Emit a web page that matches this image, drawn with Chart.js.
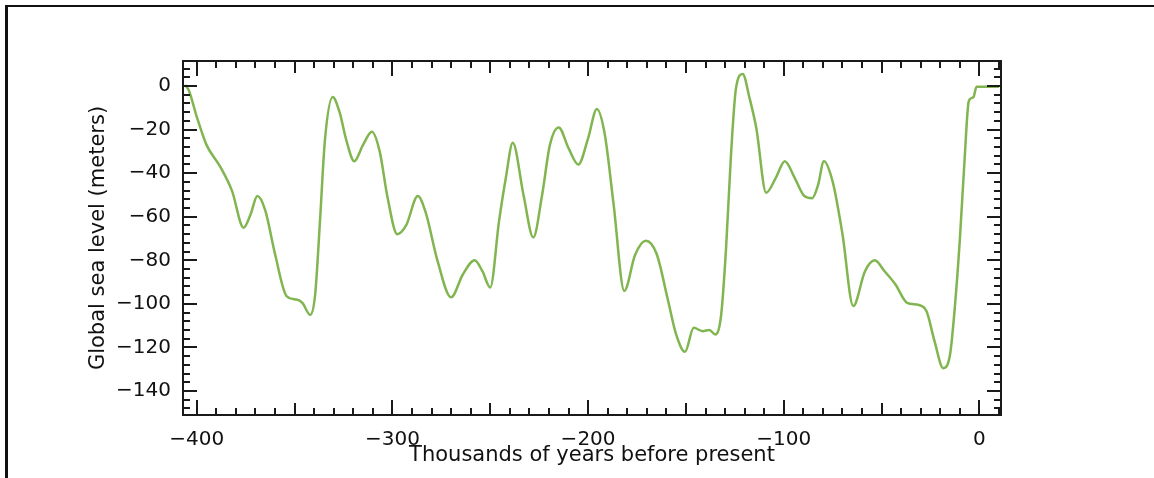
<!DOCTYPE html>
<html>
<head>
<meta charset="utf-8">
<script src="https://cdn.jsdelivr.net/npm/chart.js@4.4.1/dist/chart.umd.min.js"></script>
<style>
  body { margin: 0; background: #fff; }
  #wrap { position: relative; width: 1154px; height: 478px; overflow: hidden; }
  #frame { position: absolute; left: 5px; top: 5px; right: -10px; bottom: -10px;
           border-left: 3px solid #111; border-top: 2px solid #111; pointer-events: none; }
</style>
</head>
<body>
<div id="wrap">
  <canvas id="chart"></canvas>
  <div id="frame"></div>
</div>
<script>
// thousands of years before present
const years = [-406, -404, -400, -395, -388, -382, -376, -372.5, -369, -365, -360, -354, -349, -346, -342,
  -339.5, -337, -334.5, -330.5, -327, -323.5, -319.5, -315, -310.5, -306.5, -302.5, -297.5, -293, -287,
  -283, -277, -270, -264, -258, -254, -250, -245.5, -242, -238.5, -233, -228, -223.5, -219.5, -215, -210,
  -205, -200, -195.5, -191.5, -187, -181.5, -176, -170.5, -165, -159, -155, -150.5, -146, -141.5, -138,
  -135, -132, -129.5, -127, -124.5, -121, -117.5, -114, -109, -104, -99.5, -94.5, -89.5, -85.5, -82.5,
  -79.5, -75, -70, -64.5, -58.5, -53.5, -48.5, -43, -37, -31, -27, -23, -18.5, -15, -12.5, -10, -7.5,
  -5.5, -4, -3, -1.5, 10];
// global sea level (m)
const seaLevel = [0.5, -2, -14, -27, -37, -48, -65, -59, -50.5, -57, -77, -96.5, -98, -99.5, -105,
  -96, -62, -25, -5, -12, -25, -34.5, -27, -21, -30, -51, -68, -64, -50.5,
  -58, -80, -97, -86.5, -80, -85, -92.5, -62, -42, -26, -50, -69.5, -50, -27, -19, -28.5,
  -36, -24, -10.5, -22, -54, -94, -77.5, -71, -77, -99, -114, -122, -111, -112.5, -112,
  -114, -105, -74.5, -32, -1.5, 5.5, -5.5, -19.5, -49, -42, -34.5, -42, -50.5, -51.5, -45.5,
  -34.5, -44, -68, -101, -85, -80, -85, -91, -99.5, -100.5, -103.5, -117, -129.5, -123, -100.5, -70, -32,
  -7, -5.5, -5, -0.3, -0.3];

const xTicks = [-400, -300, -200, -100, 0];
const yTicks = [-140, -120, -100, -80, -60, -40, -20, 0];

const fmt = v => v < 0 ? '\u2212' + Math.abs(v) : String(v);
const font = { family: 'DejaVu Sans', size: 21 };
const tickFont = { family: 'DejaVu Sans', size: 20 };

// ticks pointing into the plot on all four sides, plus the box
const innerTicks = {
  id: 'innerTicks',
  afterDatasetsDraw(chart) {
    const { ctx, chartArea: a, scales: { x, y } } = chart;
    ctx.save();
    ctx.strokeStyle = '#1a1a1a';
    ctx.lineWidth = 2;
    ctx.beginPath();
    for (let v = -400; v <= 10; v += 10) {
      const px = Math.round(x.getPixelForValue(v));
      const len = v % 100 === 0 ? 15 : (v % 50 === 0 ? 12 : 7);
      ctx.moveTo(px, a.bottom); ctx.lineTo(px, a.bottom - len);
      ctx.moveTo(px, a.top); ctx.lineTo(px, a.top + len);
    }
    for (let v = -148; v <= 8; v += 4) {
      const py = Math.round(y.getPixelForValue(v));
      const len = v % 20 === 0 ? 14 : 7;
      ctx.moveTo(a.left, py); ctx.lineTo(a.left + len, py);
      ctx.moveTo(a.right, py); ctx.lineTo(a.right - len, py);
    }
    ctx.stroke();
    ctx.strokeRect(a.left, a.top, a.right - a.left, a.bottom - a.top);
    ctx.restore();
  }
};

new Chart(document.getElementById('chart'), {
  type: 'line',
  data: {
    datasets: [{
      data: years.map((t, i) => ({ x: t, y: seaLevel[i] })),
      borderColor: '#80b550',
      borderWidth: 2.5,
      pointRadius: 0,
      cubicInterpolationMode: 'monotone',
      fill: false
    }]
  },
  options: {
    responsive: true,
    maintainAspectRatio: false,
    animation: false,
    layout: { padding: { left: 70, top: 61, right: 153, bottom: 0 } },
    plugins: { legend: { display: false }, tooltip: { enabled: false } },
    scales: {
      x: {
        type: 'linear',
        min: -407,
        max: 11,
        afterBuildTicks: s => { s.ticks = xTicks.map(v => ({ value: v })); },
        afterFit: s => { s.height = 63; },
        grid: { display: false, drawTicks: false },
        border: { display: false },
        ticks: { callback: fmt, font: tickFont, color: '#111', padding: 13, maxRotation: 0 },
        title: { display: true, text: 'Thousands of years before present', font: font, color: '#111',
                 padding: { top: 0, bottom: 10 } }
      },
      y: {
        type: 'linear',
        min: -151,
        max: 11.5,
        afterBuildTicks: s => { s.ticks = yTicks.map(v => ({ value: v })); },
        afterFit: s => { s.width = 113; },
        grid: { display: false, drawTicks: false },
        border: { display: false },
        ticks: { callback: fmt, font: tickFont, color: '#111', padding: 12 },
        title: { display: true, text: 'Global sea level (meters)', font: font, color: '#111',
                 padding: { top: 16, bottom: 0 } }
      }
    }
  },
  plugins: [innerTicks]
});
</script>
</body>
</html>
